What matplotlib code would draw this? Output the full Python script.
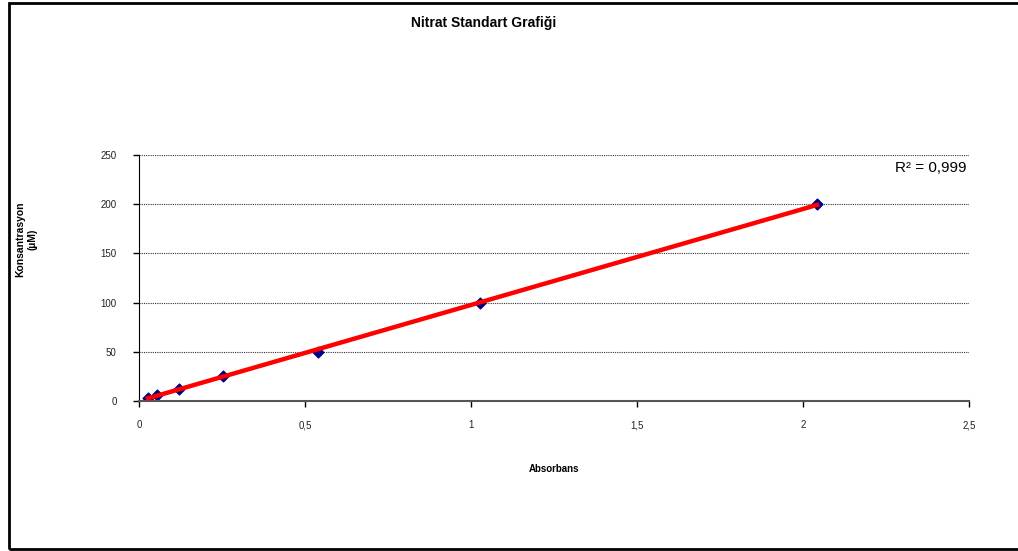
import numpy as np
import matplotlib.pyplot as plt
from matplotlib.patches import Rectangle
from matplotlib.ticker import FuncFormatter

plt.rcParams['font.family'] = ['Liberation Sans', 'DejaVu Sans']

# standard solutions: absorbance vs nitrate concentration
absorbans = [0.027, 0.054, 0.120, 0.253, 0.539, 1.027, 2.042]
konsantrasyon = [3.125, 6.25, 12.5, 25, 50, 100, 200]
r_kare = 0.999

x_ticks = [0, 0.5, 1, 1.5, 2, 2.5]
y_ticks = [0, 50, 100, 150, 200, 250]

# linear trend line
slope, intercept = np.polyfit(absorbans, konsantrasyon, 1)
x_fit = np.array([min(absorbans), max(absorbans)])
y_fit = slope * x_fit + intercept

fig = plt.figure(figsize=(10.18, 5.51), dpi=100)
ax = fig.add_axes([0.1365, 0.2722, 0.8155, 0.4465])

ax.plot(x_fit, y_fit, color='#ff0000', linewidth=3.2, zorder=3)
ax.scatter(absorbans, konsantrasyon, marker='D', s=30, color='#00008b',
           edgecolors='#000080', zorder=2)

ax.set_xlim(0, 2.5)
ax.set_ylim(0, 250)
ax.set_xticks(x_ticks)
ax.set_yticks(y_ticks)

comma = FuncFormatter(lambda v, p: ('%g' % v).replace('.', ','))
ax.xaxis.set_major_formatter(comma)
ax.yaxis.set_major_formatter(comma)

ax.tick_params(axis='both', labelsize=7, direction='out', length=4,
               width=1, color='black', labelcolor='#222222')
ax.tick_params(axis='x', pad=10)
ax.tick_params(axis='y', pad=12)

ax.yaxis.grid(True, color='#333333', linestyle=(0, (1, 1)), linewidth=0.8)
ax.set_axisbelow(True)
for side in ['top', 'right']:
    ax.spines[side].set_visible(False)
ax.spines['left'].set_color('black')
ax.spines['bottom'].set_color('#555555')
ax.spines['bottom'].set_linewidth(1.5)

ax.set_xlabel('Absorbans', fontsize=7, fontweight='bold', labelpad=24)
fig.text(0.026, 0.566, 'Konsantrasyon\n(µM)', rotation=90, fontsize=7.5,
         fontweight='bold', ha='center', va='center', multialignment='center')
fig.text(0.475, 0.958, 'Nitrat Standart Grafiği', fontsize=10,
         fontweight='bold', ha='center', va='center')

fig.text(0.949, 0.695, ('R² = %.3f' % r_kare).replace('.', ','), fontsize=11,
         ha='right', va='center')

# outer chart frame
fig.patches.append(Rectangle((8.5 / 1018, 2.5 / 551), 1.2, 1 - 5.5 / 551,
                             transform=fig.transFigure, fill=False,
                             edgecolor='black', linewidth=2))

fig.savefig('out.png', dpi=100)
